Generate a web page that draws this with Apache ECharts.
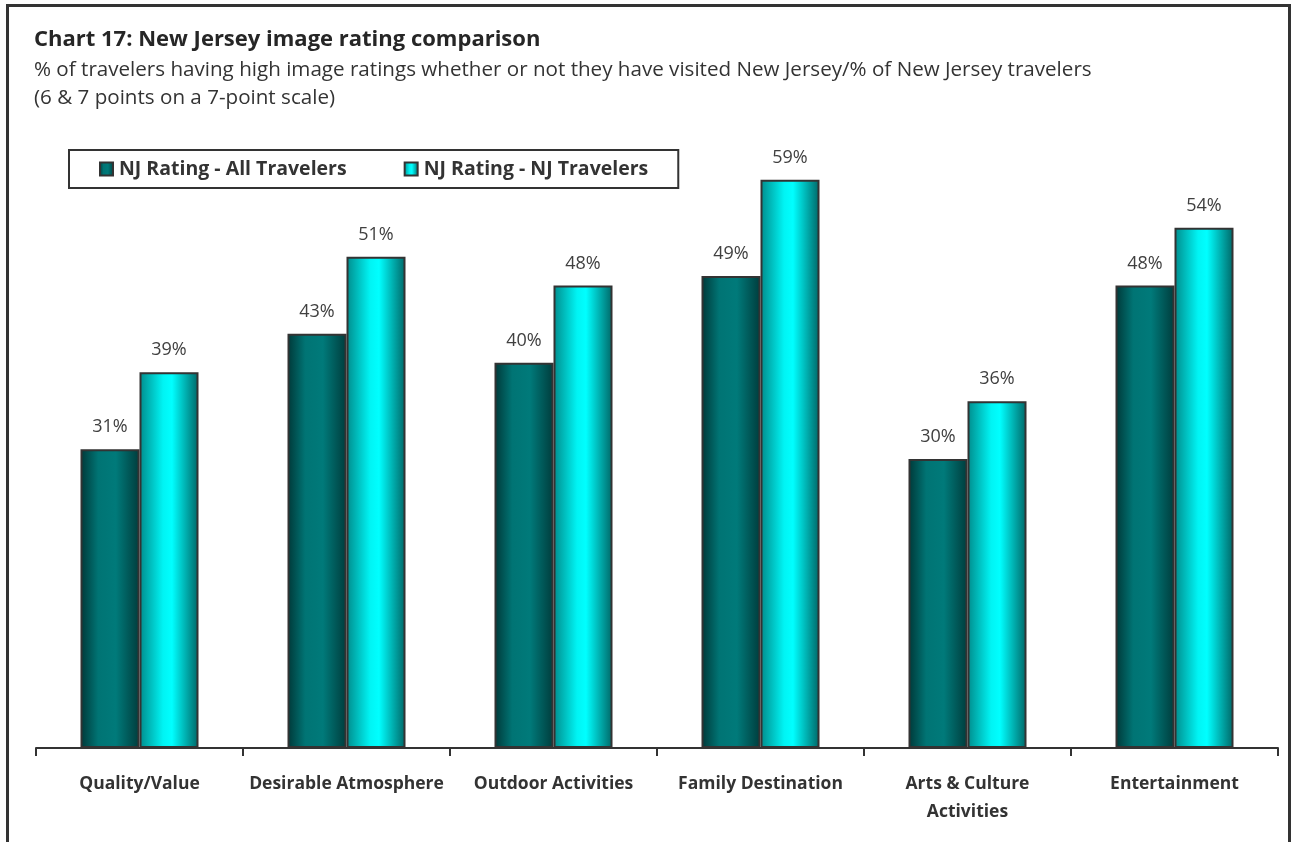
<!DOCTYPE html>
<html>
<head>
<meta charset="utf-8">
<script src="https://cdn.jsdelivr.net/npm/echarts@6/dist/echarts.min.js"></script>
<style>
  html, body { margin: 0; padding: 0; background: #fff; }
  #frame {
    position: absolute; left: 6px; top: 4px; width: 1285px; height: 900px;
    border: 3px solid #333; border-bottom: none; box-sizing: border-box;
  }
  #chart { position: absolute; left: 0; top: 0; width: 1295px; height: 842px; }
</style>
</head>
<body>
<div id="frame"></div>
<div id="chart"></div>
<script>
// Image ratings by attribute (percent of travelers rating 6 or 7 on a 7-point scale)
const categories = ['Quality/Value', 'Desirable Atmosphere', 'Outdoor Activities',
                    'Family Destination', 'Arts & Culture Activities', 'Entertainment'];
const allTravelers = [31, 43, 40, 49, 30, 48];
const njTravelers = [39, 51, 48, 59, 36, 54];
const seriesNames = ['NJ Rating - All Travelers', 'NJ Rating - NJ Travelers'];

const FONT = '"Open Sans", Lato, sans-serif';

function barGradient(stops) {
  return new echarts.graphic.LinearGradient(0, 0, 1, 0,
    stops.map(s => ({ offset: s[0], color: s[1] })));
}
const darkFill = barGradient([[0, '#003838'], [0.3, '#007474'], [0.6, '#007a7a'], [1, '#003c3c']]);
const lightFill = barGradient([[0, '#008c8c'], [0.4, '#00f4f4'], [0.55, '#00ffff'], [1, '#006666']]);

const chart = echarts.init(document.getElementById('chart'), null, { renderer: 'canvas' });

function valueLabel() {
  return {
    show: true, position: 'top', distance: 13,
    formatter: p => p.value + '%',
    fontFamily: FONT, fontSize: 18, color: '#404040'
  };
}

chart.setOption({
  animation: false,
  backgroundColor: 'transparent',
  title: {
    text: 'Chart 17: New Jersey image rating comparison',
    subtext: '% of travelers having high image ratings whether or not they have visited New Jersey/% of New Jersey travelers\n(6 & 7 points on a 7-point scale)',
    left: 29, top: 24, itemGap: 5,
    textStyle: { fontFamily: FONT, fontSize: 22, fontWeight: 'bold', color: '#262626' },
    subtextStyle: { fontFamily: FONT, fontSize: 20.6, color: '#333', lineHeight: 28 }
  },
  legend: {
    data: seriesNames,
    icon: 'rect',
    left: 69, top: 150,
    padding: [9, 30, 9, 30],
    itemGap: 57,
    itemWidth: 13, itemHeight: 13,
    borderColor: '#333', borderWidth: 2,
    textStyle: { fontFamily: FONT, fontSize: 19.5, fontWeight: 'bold', color: '#333', padding: [0, 0, 0, 1] }
  },
  grid: { left: 36, right: 17, top: 170, bottom: 94, containLabel: false },
  xAxis: {
    type: 'category',
    data: categories,
    axisLine: { lineStyle: { color: '#333', width: 2 } },
    axisTick: { show: true, length: 8, lineStyle: { color: '#333', width: 2 } },
    axisLabel: {
      margin: 22, interval: 0,
      fontFamily: FONT, fontSize: 17.5, fontWeight: 'bold', color: '#333', lineHeight: 28,
      formatter: v => {
        if (v.length <= 22) return v;
        const i = v.lastIndexOf(' ');
        return v.slice(0, i) + '\n' + v.slice(i + 1);
      }
    }
  },
  yAxis: {
    type: 'value', min: 0, max: 60, interval: 10,
    show: false, splitLine: { show: false }
  },
  series: [
    {
      name: seriesNames[0], type: 'bar', data: allTravelers,
      barWidth: 59, barGap: '0%',
      itemStyle: { color: darkFill, borderColor: '#333', borderWidth: 2 },
      label: valueLabel()
    },
    {
      name: seriesNames[1], type: 'bar', data: njTravelers,
      barWidth: 59, barGap: '0%',
      itemStyle: { color: lightFill, borderColor: '#333', borderWidth: 2 },
      label: valueLabel()
    }
  ]
});
</script>
</body>
</html>
